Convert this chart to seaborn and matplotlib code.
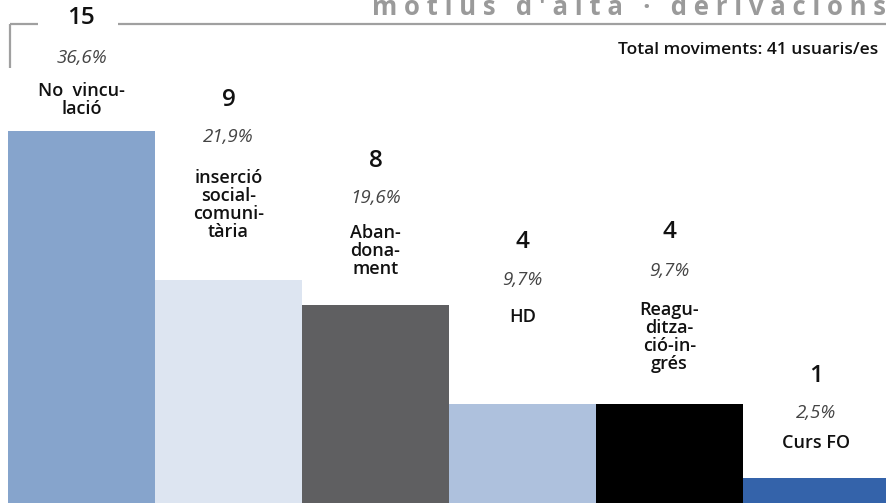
import matplotlib
matplotlib.use("Agg")
import matplotlib.pyplot as plt
import seaborn as sns
import pandas as pd

# dades del gràfic
categories = ["No vinculació", "inserció social-comunitària", "Abandonament",
              "HD", "Reagudització-ingrés", "Curs FO"]
label_lines = ["No  vincu-\nlació", "inserció\nsocial-\ncomuni-\ntària",
               "Aban-\ndona-\nment", "HD", "Reagu-\nditza-\nció-in-\ngrés", "Curs FO"]
counts = [15, 9, 8, 4, 4, 1]
percents = ["36,6%", "21,9%", "19,6%", "9,7%", "9,7%", "2,5%"]
colors = ["#86a4cc", "#dde5f1", "#5f5f61", "#aec1dd", "#000000", "#3463aa"]

title = "m o t i u s   d ' a l t a   ·   d e r i v a c i o n s"
subtitle = "Total moviments: 41 usuaris/es"

sns.set_theme(style="white")
plt.rcParams['font.family'] = ['Open Sans', 'DejaVu Sans']

W, H = 887, 503
fig = plt.figure(figsize=(W / 100, H / 100), dpi=100)

# eix principal amb les barres (sense separació entre barres)
ax = fig.add_axes([8 / W, 0, 882 / W, 1])
df = pd.DataFrame({"cat": categories, "n": counts})
sns.barplot(data=df, x="cat", y="n", hue="cat", palette=colors, width=1.0,
            saturation=1, legend=False, ax=ax, order=categories,
            linewidth=0, edgecolor="none")
ax.set_xlim(-0.5, 5.5)
ax.set_ylim(0, H / 24.8)
ax.axis("off")

# capa superior en coordenades de píxel per textos i marc
ov = fig.add_axes([0, 0, 1, 1], facecolor="none")
ov.set_xlim(0, W)
ov.set_ylim(H, 0)
ov.axis("off")

grey = "#a0a0a0"
ov.plot([118, W], [24, 24], color=grey, lw=1.6, solid_capstyle="butt")
ov.plot([10, 38], [24, 24], color=grey, lw=1.6, solid_capstyle="butt")
ov.plot([10, 10], [24, 68], color=grey, lw=1.6, solid_capstyle="butt")

ov.text(886, 7, title, ha="right", va="center", fontsize=18.5, fontweight="bold",
        color="#9a9a9a")
ov.text(878, 50, subtitle, ha="right", va="center", fontsize=12.5, fontweight="semibold",
        color="#111111")

# posicions verticals (px) de número, percentatge i etiqueta per cada barra
num_y = [18, 100, 161, 242, 232, 376]
pct_y = [58, 137, 198, 280, 271, 413]
lab_y = [100, 205, 251, 317, 337, 443]

for i in range(len(categories)):
    cx = 8 + 147 * (i + 0.5)
    ov.text(cx, num_y[i], str(counts[i]), ha="center", va="center", fontsize=17.5,
            fontweight="semibold", color="#111111")
    ov.text(cx, pct_y[i], percents[i], ha="center", va="center", fontsize=13.5,
            style="italic", color="#444444")
    ov.text(cx, lab_y[i], label_lines[i], ha="center", va="center", fontsize=13,
            fontweight="semibold", color="#111111", linespacing=1.02)

fig.savefig("out.png", dpi=100)
